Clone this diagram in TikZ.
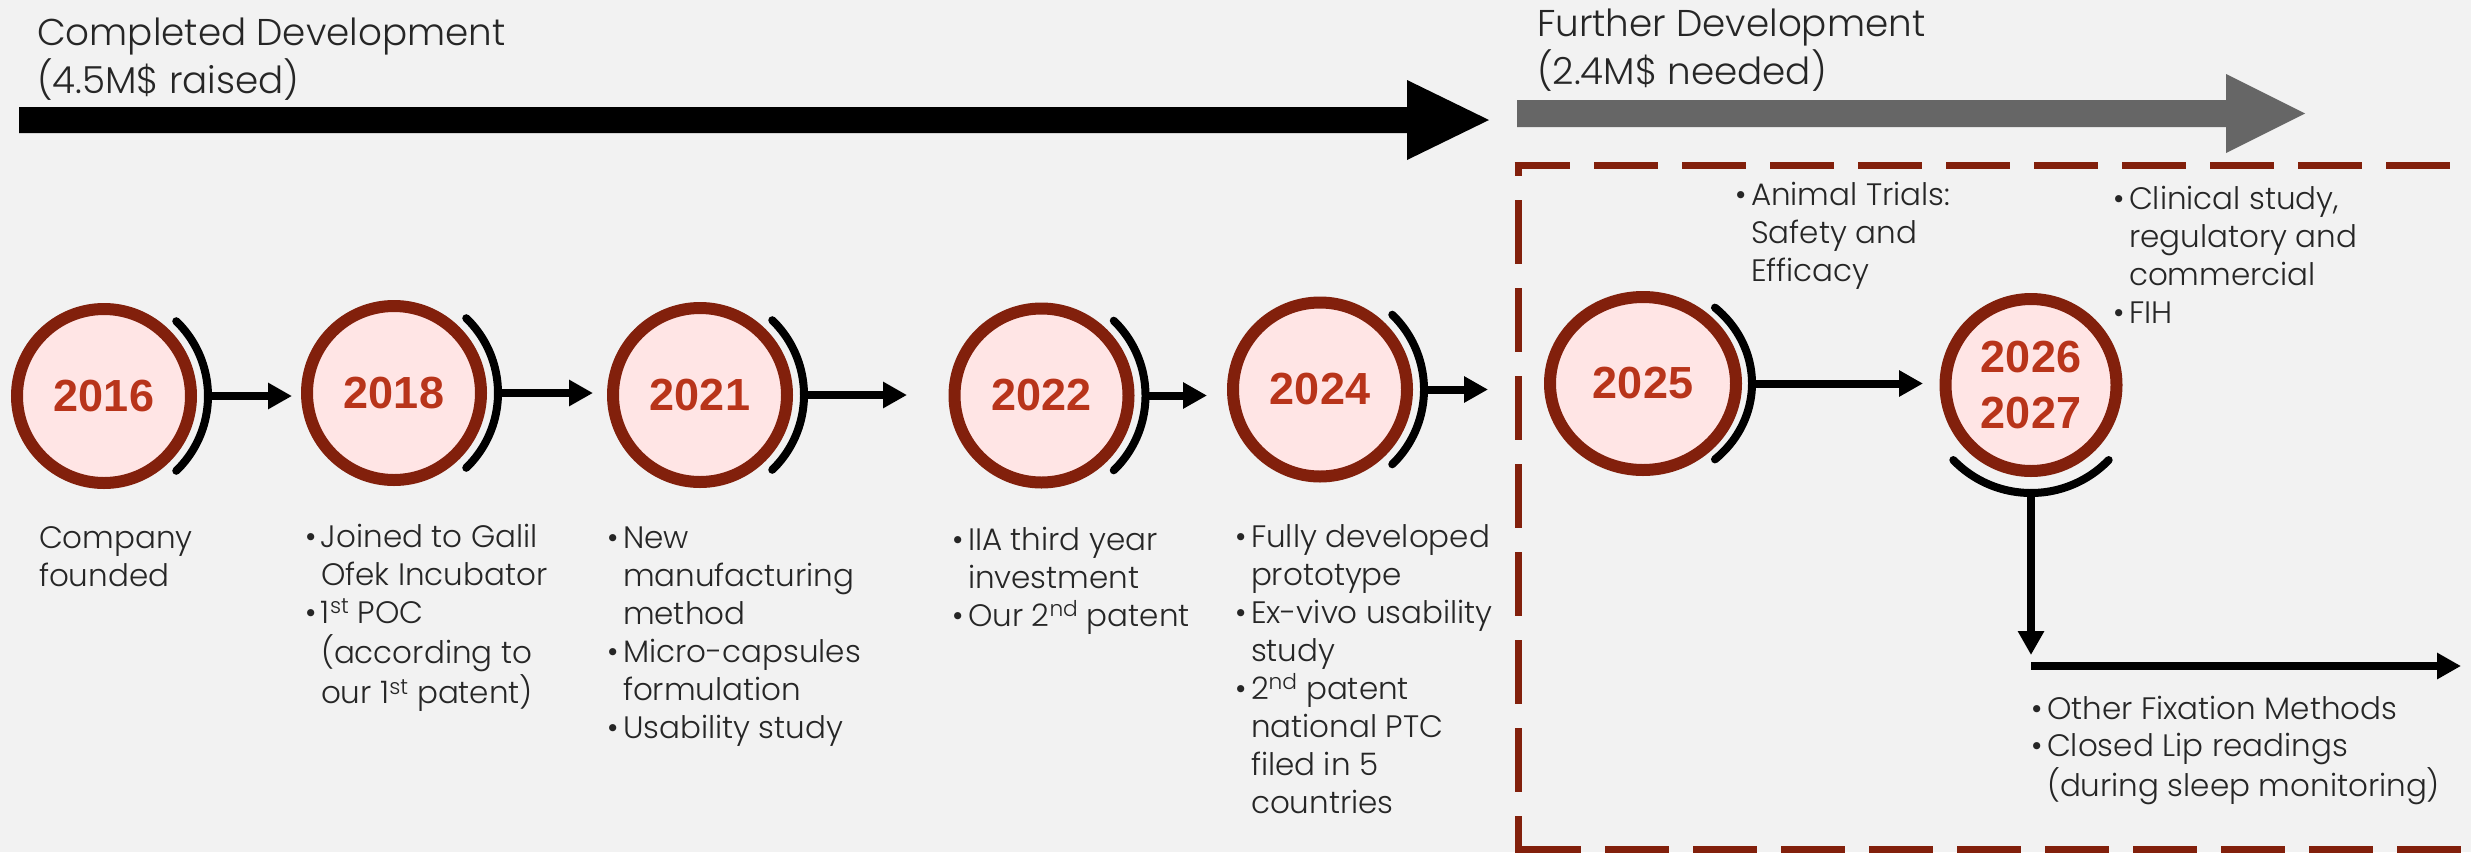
\documentclass[tikz,border=0pt]{standalone}
\usepackage{fontspec}
\usetikzlibrary{arrows.meta,shapes.geometric}
\IfFontExistsTF{Poppins Light}{\newfontfamily\bodyfont{Poppins Light}}{\newfontfamily\bodyfont{Poppins}}
\newfontfamily\yearfont{Liberation Sans}
\definecolor{bg}{HTML}{F2F2F2}
\definecolor{ring}{HTML}{82200C}
\definecolor{yeartext}{HTML}{B8341A}
\definecolor{yearfill}{HTML}{FFE5E5}
\definecolor{txtc}{HTML}{262626}
\definecolor{futurearrow}{HTML}{666666}

\newcommand{\bul}{\makebox[16pt][l]{•}}
\newcommand{\ind}{\hspace*{16pt}}
\newcommand{\lines}[1]{\begin{tabular}[t]{@{}l@{}}#1\end{tabular}}

\tikzset{
  yearnode/.style={ellipse, draw=ring, line width=12pt, fill=yearfill,
    inner sep=0pt, outer sep=6pt, minimum width=174pt, minimum height=174pt,
    text=yeartext, font=\yearfont\bfseries\fontsize{45}{56}\selectfont, align=center},
  halfring/.style={line width=8pt, line cap=round},
  conn/.style={line width=8pt, -{Triangle[length=24pt,width=25pt]}},
  bodytext/.style={anchor=base west, inner sep=0pt, outer sep=0pt, text=txtc,
    font=\bodyfont\fontsize{31}{38}\selectfont},
  titletext/.style={anchor=base west, inner sep=0pt, outer sep=0pt, text=txtc,
    font=\bodyfont\fontsize{37.3}{45}\selectfont},
  futurebox/.style={draw=ring, line width=7pt, dash pattern=on 64pt off 24pt},
}

\begin{document}
\begin{tikzpicture}[x=1pt,y=-1pt]
\fill[bg] (0,0) rectangle (2471,852);
\useasboundingbox (0,0) rectangle (2471,852);

% open dashed frame around the planned stages
\begin{scope}
  \clip (0,0) rectangle (2471,852);
  \draw[futurebox, dash phase=53pt] (1518,165) -- (1518,860);
  \draw[futurebox, dash phase=8.5pt] (1514.5,165) -- (2490,165);
  \draw[futurebox] (1517,849) -- (2490,849);
\end{scope}

% phase arrows
\fill[black] (19,107) -- (1407,107) -- (1407,80) -- (1489,120) -- (1407,160)
  -- (1407,133) -- (19,133) -- cycle;
\fill[futurearrow] (1517,100) -- (2226,100) -- (2226,74) -- (2305,113.5)
  -- (2226,153) -- (2226,127) -- (1517,127) -- cycle;

\node[titletext] (done) at (37,45) {\lines{Completed Development\\(4.5M\$ raised)}};
\node[titletext] (todo) at (1537,36) {\lines{Further Development\\(2.4M\$ needed)}};

% milestones
\node[yearnode] (c16) at (104,396) {2016};
\node[yearnode] (c18) at (394,393) {2018};
\node[yearnode] (c21) at (700,395) {2021};
\node[yearnode] (c22) at (1041.5,395.5) {2022};
\node[yearnode] (c24) at (1320,389.5) {2024};
\node[yearnode, minimum width=186pt, minimum height=173pt] (c25) at (1643,383.5) {2025};
\node[yearnode, minimum width=171pt, minimum height=172pt] (c26) at (2031,385) {2026\\2027};

% half rings beside each milestone
\foreach \c in {c16,c18,c21,c22,c24}
  \draw[halfring] ([shift={(-46:104)}]\c.center) arc[start angle=-46, end angle=46, radius=104];
\draw[halfring] ([shift={(-48.7:109 and 101)}]c25.center)
  arc[start angle=-48.7, end angle=48.7, x radius=109, y radius=101];
\draw[halfring] ([shift={(44:108)}]c26.center) arc[start angle=44, end angle=136, radius=108];

% connectors
\coordinate (gate) at (1488,389.5);
\coordinate (h0) at (2031,666);
\coordinate (h1) at (2461,666);
\draw[conn] ([xshift=104pt]c16.center) -- ([xshift=-9pt]c16.center -| c18.west);
\draw[conn] ([xshift=105pt]c18.center) -- ([xshift=-14pt]c18.center -| c21.west);
\draw[conn] ([xshift=104pt]c21.center) -- ([xshift=-41.5pt]c21.center -| c22.west);
\draw[conn] ([xshift=104pt]c22.center) -- ([xshift=-20pt]c22.center -| c24.west);
\draw[conn] ([xshift=104pt]c24.center) -- (gate);
\draw[conn] ([xshift=109pt]c25.center) -- ([xshift=-16.5pt]c25.center -| c26.west);
\draw[conn] ([shift={(0,108)}]c26.center) -- ([shift={(0,-11)}]h0);
\draw[conn] (h0) -- (h1);

% descriptions
\node[bodytext] (n16) at (39,548) {\lines{Company\\founded}};
\node[bodytext] (n18) at (305,547) {\lines{\bul Joined to Galil\\\ind Ofek Incubator\\\bul 1\textsuperscript{st} POC\\\ind (according to\\\ind our 1\textsuperscript{st} patent)}};
\node[bodytext] (n21) at (607,548) {\lines{\bul New\\\ind manufacturing\\\ind method\\\bul Micro-capsules\\\ind formulation\\\bul Usability study}};
\node[bodytext] (n22) at (952,550) {\lines{\bul IIA third year\\\ind investment\\\bul Our 2\textsuperscript{nd} patent}};
\node[bodytext] (n24) at (1235,547) {\lines{\bul Fully developed\\\ind prototype\\\bul Ex-vivo usability\\\ind study\\\bul 2\textsuperscript{nd} patent\\\ind national PTC\\\ind filed in 5\\\ind countries}};
\node[bodytext] (n25) at (1735,205) {\lines{\bul Animal Trials:\\\ind Safety and\\\ind Efficacy}};
\node[bodytext] (n26) at (2113,209) {\lines{\bul Clinical study,\\\ind regulatory and\\\ind commercial\\\bul FIH}};
\node[bodytext, font=\bodyfont\fontsize{31}{37}\selectfont] (nx) at (2031,719)
  {\lines{\bul Other Fixation Methods\\\bul Closed Lip readings\\\ind (during sleep monitoring)}};
\end{tikzpicture}
\end{document}
